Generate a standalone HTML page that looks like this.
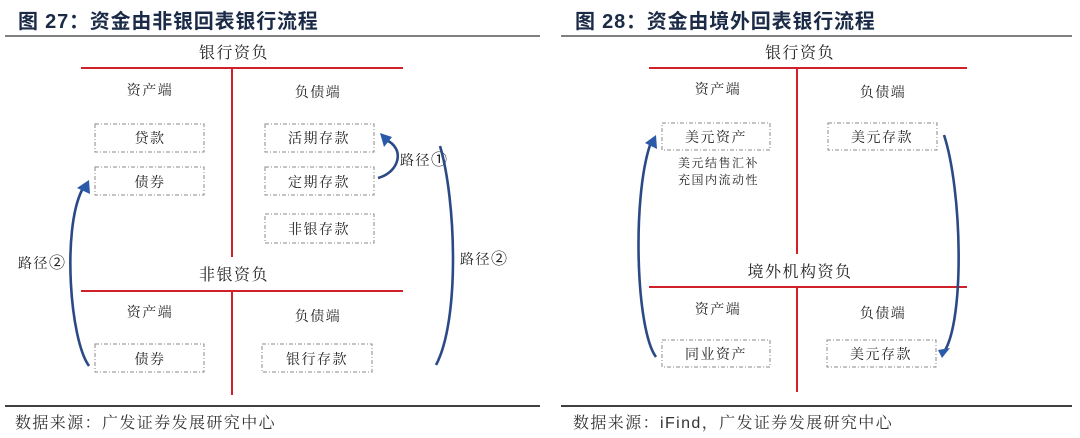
<!DOCTYPE html>
<html><head><meta charset="utf-8"><style>
body{margin:0;background:#fff;}
svg{display:block;}
text{font-family:"Liberation Serif","Noto Serif CJK SC",serif;fill:#222;letter-spacing:1.5px;}
.t{font-family:"Liberation Sans","Noto Sans CJK SC",sans-serif;font-weight:bold;fill:#1b2a47;font-size:20px;letter-spacing:0.8px;}
.s{font-family:"Liberation Serif","Noto Serif CJK SC",serif;font-size:16px;fill:#333;letter-spacing:1.4px;}
.b{fill:none;stroke:#888;stroke-width:1;stroke-dasharray:4,2,1,2;}
.r{stroke:#d0202a;stroke-width:2;}
.c{fill:none;stroke:#2b4a85;stroke-width:2.6;}
.a{fill:#2b5aa8;}
.n{font-family:"Noto Sans CJK SC",sans-serif;font-size:16px;letter-spacing:0;}
</style></head><body>
<svg width="1080" height="438" viewBox="0 0 1080 438" xmlns="http://www.w3.org/2000/svg">
<!-- LEFT PANEL -->
<text x="18" y="28" class="t">图  27：资金由非银回表银行流程</text>
<line x1="5" y1="36" x2="540" y2="36" stroke="#808080" stroke-width="2"/>
<text x="234" y="58" font-size="16" text-anchor="middle">银行资负</text>
<line x1="81" y1="68" x2="403" y2="68" class="r"/>
<line x1="232" y1="68" x2="232" y2="257" class="r"/>
<text x="150" y="95" font-size="14" text-anchor="middle">资产端</text>
<text x="318" y="97" font-size="14" text-anchor="middle">负债端</text>
<rect x="95" y="124" width="109" height="28" class="b"/><text x="150" y="143" font-size="14" text-anchor="middle">贷款</text>
<rect x="95" y="167" width="109" height="28" class="b"/><text x="150" y="187" font-size="14" text-anchor="middle">债券</text>
<rect x="265" y="124" width="109" height="28" class="b"/><text x="319" y="143" font-size="14" text-anchor="middle">活期存款</text>
<rect x="265" y="167" width="109" height="28" class="b"/><text x="319" y="187" font-size="14" text-anchor="middle">定期存款</text>
<rect x="265" y="214" width="109" height="29" class="b"/><text x="319" y="234" font-size="14" text-anchor="middle">非银存款</text>
<text x="234" y="280" font-size="16" text-anchor="middle">非银资负</text>
<line x1="81" y1="291" x2="403" y2="291" class="r"/>
<line x1="232" y1="291" x2="232" y2="395" class="r"/>
<text x="150" y="317" font-size="14" text-anchor="middle">资产端</text>
<text x="318" y="321" font-size="14" text-anchor="middle">负债端</text>
<rect x="95" y="344" width="109" height="28" class="b"/><text x="150" y="364" font-size="14" text-anchor="middle">债券</text>
<rect x="262" y="344" width="110" height="28" class="b"/><text x="317" y="364" font-size="14" text-anchor="middle">银行存款</text>
<text x="18" y="268" font-size="14">路径<tspan class="n">②</tspan></text>
<text x="460" y="264" font-size="14">路径<tspan class="n">②</tspan></text>
<text x="400" y="165" font-size="14">路径<tspan class="n">①</tspan></text>
<!-- curves -->
<path d="M89,366 C70,340 62,230 82,190" class="c"/>
<polygon points="77,188 89,180 90,194" class="a"/>
<path d="M378,178 C400,172 405,148 386,140" class="c"/>
<polygon points="380,133 392,137 384,147" class="a"/>
<path d="M440,146 C456,200 460,320 436,365" class="c"/>
<!-- source -->
<line x1="5" y1="406" x2="540" y2="406" stroke="#000" stroke-width="1.5"/>
<text x="15" y="428" class="s">数据来源：广发证券发展研究中心</text>

<!-- RIGHT PANEL -->
<text x="575" y="28" class="t">图  28：资金由境外回表银行流程</text>
<line x1="561" y1="36" x2="1072" y2="36" stroke="#808080" stroke-width="2"/>
<text x="800" y="58" font-size="16" text-anchor="middle">银行资负</text>
<line x1="649" y1="68" x2="967" y2="68" class="r"/>
<line x1="797" y1="68" x2="797" y2="254" class="r"/>
<text x="718" y="94" font-size="14" text-anchor="middle">资产端</text>
<text x="883" y="97" font-size="14" text-anchor="middle">负债端</text>
<rect x="662" y="123" width="108" height="27" class="b"/><text x="716" y="142" font-size="14" text-anchor="middle">美元资产</text>
<text x="678" y="167" font-size="12">美元结售汇补</text>
<text x="678" y="184" font-size="12">充国内流动性</text>
<rect x="828" y="123" width="109" height="27" class="b"/><text x="882" y="142" font-size="14" text-anchor="middle">美元存款</text>
<text x="800" y="277" font-size="16" text-anchor="middle">境外机构资负</text>
<line x1="649" y1="287" x2="967" y2="287" class="r"/>
<line x1="797" y1="287" x2="797" y2="392" class="r"/>
<text x="718" y="314" font-size="14" text-anchor="middle">资产端</text>
<text x="883" y="318" font-size="14" text-anchor="middle">负债端</text>
<rect x="662" y="340" width="108" height="27" class="b"/><text x="716" y="359" font-size="14" text-anchor="middle">同业资产</text>
<rect x="827" y="340" width="109" height="27" class="b"/><text x="881" y="359" font-size="14" text-anchor="middle">美元存款</text>
<path d="M656,357 C636,330 632,200 650,145" class="c"/>
<polygon points="645,143 656,135 657,149" class="a"/>
<path d="M944,135 C962,190 965,320 944,352" class="c"/>
<polygon points="938,350 950,348 942,358" class="a"/>
<line x1="561" y1="406" x2="1072" y2="406" stroke="#000" stroke-width="1.5"/>
<text x="573" y="428" class="s">数据来源：<tspan font-family="Liberation Sans, sans-serif">iFind</tspan>，广发证券发展研究中心</text>
</svg>
</body></html>
